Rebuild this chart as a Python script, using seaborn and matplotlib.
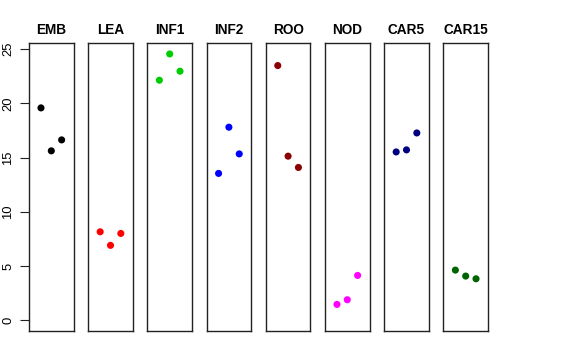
import matplotlib
matplotlib.use("Agg")
import matplotlib.pyplot as plt
import seaborn as sns
import pandas as pd

tissues = ["EMB", "LEA", "INF1", "INF2", "ROO", "NOD", "CAR5", "CAR15"]
colors = ["#000000", "#FF0000", "#00CD00", "#0000FF", "#8B0000", "#FF00FF", "#000080", "#006400"]
emb = [19.58, 15.62, 16.63]
lea = [8.16, 6.91, 8.01]
inf1 = [22.13, 24.55, 22.96]
inf2 = [13.54, 17.80, 15.34]
roo = [23.48, 15.13, 14.09]
nod = [1.47, 1.90, 4.14]
car5 = [15.52, 15.71, 17.27]
car15 = [4.63, 4.08, 3.83]
reps = [1, 2, 3]
yticks = [0, 5, 10, 15, 20, 25]

values = [emb, lea, inf1, inf2, roo, nod, car5, car15]
rows = []
for t, vals in zip(tissues, values):
    for r, v in zip(reps, vals):
        rows.append({"tissue": t, "rep": r, "value": v})
df = pd.DataFrame(rows)

sns.set_style("white")
plt.rcParams["font.family"] = ["Liberation Sans", "DejaVu Sans"]
plt.rcParams["text.color"] = "black"
plt.rcParams["axes.titlecolor"] = "black"
plt.rcParams["ytick.color"] = "black"
plt.rcParams["ytick.labelcolor"] = "black"

W, H = 576, 360
fig = plt.figure(figsize=(W / 100, H / 100), dpi=100)

ymax = df["value"].max()
ylo, yhi = 0 - 0.04 * ymax, ymax + 0.04 * ymax

box_top, box_bot = 43.3, 331.0
for i, (t, c) in enumerate(zip(tissues, colors)):
    left = 29 + i * 59.2
    ax = fig.add_axes([left / W, 1 - box_bot / H, 44.6 / W, (box_bot - box_top) / H])
    sub = df[df["tissue"] == t]
    sns.scatterplot(data=sub, x="rep", y="value", color=c, s=26, edgecolor="none",
                    legend=False, ax=ax)
    ax.set_xlim(-0.16, 4.16)
    ax.set_ylim(ylo, yhi)
    ax.set_xticks([])
    ax.set_xlabel("")
    ax.set_ylabel("")
    for sp in ax.spines.values():
        sp.set_visible(True)
        sp.set_color("#222222")
        sp.set_linewidth(1.0)
    ax.set_title(t, fontsize=9.8, fontweight="bold", pad=7, color="black")
    if i == 0:
        ax.set_yticks(yticks)
        ax.set_yticklabels([str(v) for v in yticks], rotation=90, va="center", fontsize=9.4,
                           color="black")
        ax.tick_params(axis="y", left=True, length=6.5, width=0.8, pad=4, color="#222222")
    else:
        ax.set_yticks([])

fig.savefig("out.png", dpi=100)
